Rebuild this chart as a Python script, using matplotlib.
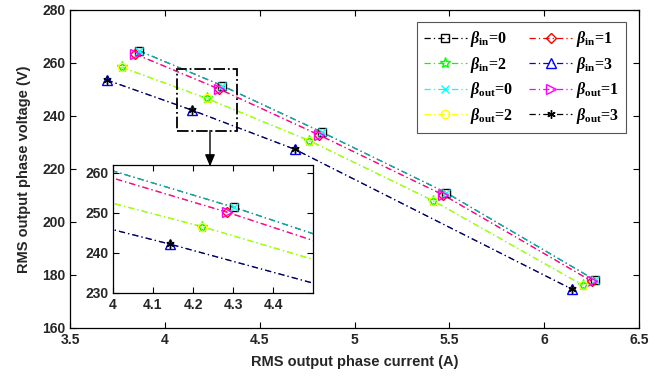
import matplotlib
matplotlib.use('Agg')
import matplotlib.pyplot as plt
from matplotlib.lines import Line2D
from matplotlib.patches import Rectangle

# ---- data ----
current_in0 = [3.864, 4.303, 4.830, 5.482, 6.268]
voltage_in0 = [264.6, 251.4, 233.8, 211.1, 178.1]
current_in1 = [3.843, 4.285, 4.814, 5.468, 6.250]
voltage_in1 = [263.4, 250.2, 232.8, 210.2, 177.7]
current_in2 = [3.772, 4.222, 4.761, 5.415, 6.203]
voltage_in2 = [258.4, 246.6, 230.7, 208.0, 176.2]
current_in3 = [3.693, 4.143, 4.686, 6.145]
voltage_in3 = [253.6, 242.2, 227.4, 174.7]

current_out0 = [3.864, 4.303, 4.830, 5.482, 6.268]
voltage_out0 = [264.6, 251.4, 233.8, 211.1, 178.1]
current_out1 = [3.843, 4.285, 4.814, 5.468, 6.250]
voltage_out1 = [263.4, 250.2, 232.8, 210.2, 177.7]
current_out2 = [3.772, 4.222, 4.761, 5.415, 6.203]
voltage_out2 = [258.4, 246.6, 230.7, 208.0, 176.2]
current_out3 = [3.693, 4.143, 4.686, 6.145]
voltage_out3 = [253.6, 242.2, 227.4, 174.7]

labels_in = [r'$\beta_{\mathbf{in}}$=0', r'$\beta_{\mathbf{in}}$=1',
             r'$\beta_{\mathbf{in}}$=2', r'$\beta_{\mathbf{in}}$=3']
labels_out = [r'$\beta_{\mathbf{out}}$=0', r'$\beta_{\mathbf{out}}$=1',
              r'$\beta_{\mathbf{out}}$=2', r'$\beta_{\mathbf{out}}$=3']

x_ticks = [3.5, 4, 4.5, 5, 5.5, 6, 6.5]
y_ticks = [160, 180, 200, 220, 240, 260, 280]
inset_x_ticks = [4, 4.1, 4.2, 4.3, 4.4]
inset_y_ticks = [230, 240, 250, 260]

# ---- style ----
plt.rcParams['font.family'] = 'Liberation Sans'
plt.rcParams['font.weight'] = 'bold'
plt.rcParams['mathtext.fontset'] = 'custom'
plt.rcParams['mathtext.rm'] = 'Liberation Serif:bold'
plt.rcParams['mathtext.it'] = 'Liberation Serif:italic:bold'
plt.rcParams['mathtext.bf'] = 'Liberation Serif:bold'

DASH = (5, 2.5, 1, 2.5)
LW = 0.9
MS = 6

series = [
    (current_in0, voltage_in0, 'k', 's', labels_in[0], 1.0, MS),
    (current_in1, voltage_in1, 'r', 'D', labels_in[1], 1.0, MS - 0.5),
    (current_in2, voltage_in2, '#00ff00', '*', labels_in[2], 1.0, MS + 2),
    (current_in3, voltage_in3, 'b', '^', labels_in[3], 1.0, MS + 0.5),
    (current_out0, voltage_out0, '#00ffff', 'x', labels_out[0], 0.7, MS),
    (current_out1, voltage_out1, '#ff00ff', '>', labels_out[1], 0.6, MS + 0.5),
    (current_out2, voltage_out2, '#ffff00', 'o', labels_out[2], 0.7, MS),
    (current_out3, voltage_out3, 'k', (6, 2, 0), labels_out[3], 0.7, MS),
]

fig = plt.figure(figsize=(6.67, 3.82), dpi=100)
ax = fig.add_axes([0.105, 0.1414, 0.853, 0.8325])
axin = fig.add_axes([0.1694, 0.2330, 0.2999, 0.3351])


def draw(a):
    for x, y, c, m, lab, al, ms in series:
        a.plot(x, y, color=c, lw=LW, ls='-.', dashes=DASH, alpha=al, zorder=2)
    for x, y, c, m, lab, al, ms in series:
        a.plot(x, y, ls='none', marker=m, ms=ms, mfc='none', mec=c, mew=1.0, zorder=3)


draw(ax)
draw(axin)

tick_col = '#262626'
for a in (ax, axin):
    a.tick_params(direction='in', top=True, right=True, length=4, width=0.8,
                  labelsize=10, labelcolor=tick_col, colors='k')
    for s in a.spines.values():
        s.set_linewidth(0.9)

ax.set_xlim(3.5, 6.5)
ax.set_ylim(160, 280)
ax.set_xticks(x_ticks)
ax.set_xticklabels(['3.5', '4', '4.5', '5', '5.5', '6', '6.5'], fontweight='bold')
ax.set_yticks(y_ticks)
ax.set_yticklabels([str(v) for v in y_ticks], fontweight='bold')
ax.set_xlabel('RMS output phase current (A)', fontsize=10.5, fontweight='bold', color=tick_col, labelpad=6)
ax.set_ylabel('RMS output phase voltage (V)', fontsize=10.5, fontweight='bold', color=tick_col, labelpad=8)

axin.set_xlim(4, 4.5)
axin.set_ylim(230, 262)
axin.set_xticks(inset_x_ticks)
axin.set_xticklabels(['4', '4.1', '4.2', '4.3', '4.4'], fontweight='bold')
axin.set_yticks(inset_y_ticks)
axin.set_yticklabels([str(v) for v in inset_y_ticks], fontweight='bold')

# zoom box and arrow
ax.add_patch(Rectangle((4.066, 234.5), 0.313, 23.1, fill=False, ec='k', lw=1.3,
                       ls='-.', zorder=4))
ax.annotate('', xy=(4.238, 221.0), xytext=(4.238, 234.5),
            arrowprops=dict(arrowstyle='-|>,head_length=0.7,head_width=0.3',
                            color='k', lw=1.0, shrinkA=0, shrinkB=0), zorder=4)

# legend
handles = []
for x, y, c, m, lab, al, ms in series:
    handles.append(Line2D([], [], color=c, lw=LW, ls='-.', dashes=DASH, marker=m, ms=ms,
                          mfc='none', mec=c, mew=1.0, label=lab))
order = [0, 2, 4, 6, 1, 3, 5, 7]
leg = ax.legend([handles[i] for i in order], [handles[i].get_label() for i in order],
                ncol=2, loc='upper right', bbox_to_anchor=(0.977, 0.962), borderaxespad=0,
                prop={'family': 'Liberation Serif', 'weight': 'bold', 'size': 11.5},
                handlelength=2.7, handletextpad=0.2, columnspacing=1.0,
                labelspacing=0.35, borderpad=0.45, fancybox=False, framealpha=1,
                edgecolor='#555555')
leg.get_frame().set_linewidth(0.8)

fig.savefig('out.png', dpi=100)
